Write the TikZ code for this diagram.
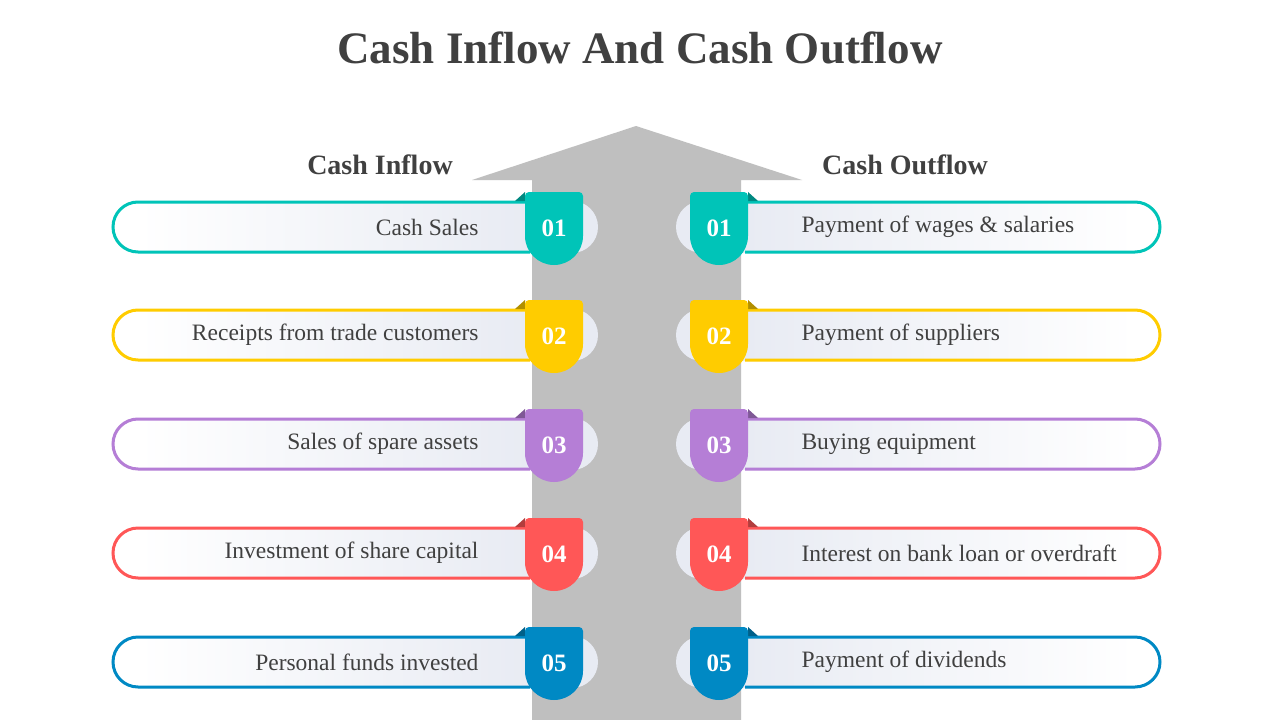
\documentclass[tikz,border=0pt]{standalone}
\usepackage{fontspec}
\setmainfont{Liberation Serif}
\begin{document}
\begin{tikzpicture}[x=1pt,y=-1pt,
  txt/.style={text=black!75, font=\fontsize{23.5}{26}\selectfont},
  num/.style={text=white, font=\bfseries\fontsize{25}{28}\selectfont}]
\useasboundingbox[fill=white] (0,0) rectangle (1280,720);
\definecolor{c1}{HTML}{00C4B8}\definecolor{c2}{HTML}{FFCC00}\definecolor{c3}{HTML}{B57ED6}
\definecolor{c4}{HTML}{FF5757}\definecolor{c5}{HTML}{0089C4}
\definecolor{pl}{HTML}{E8EBF3}\definecolor{ar}{HTML}{BFBFBF}
\node[font=\bfseries\fontsize{45}{50}\selectfont, text=black!75] (title) at (640,48) {Cash Inflow And Cash Outflow};
\fill[ar] (532,720) -- (532,180) -- (472,180) -- (636,126) -- (802,180) -- (741,180) -- (741,720) -- cycle;
\node[font=\bfseries\fontsize{28}{32}\selectfont, text=black!75] (hin) at (380,165) {Cash Inflow};
\node[font=\bfseries\fontsize{28}{32}\selectfont, text=black!75] (hout) at (905,165) {Cash Outflow};
\foreach \y/\c/\n/\L/\R in {227/c1/01/Cash Sales/Payment of wages \& salaries,
  335/c2/02/Receipts from trade customers/Payment of suppliers,
  444/c3/03/Sales of spare assets/Buying equipment,
  553/c4/04/Investment of share capital/Interest on bank loan or overdraft,
  662/c5/05/Personal funds invested/Payment of dividends}{
  % left pill
  \fill[pl] (572,\y-26) arc[start angle=-90,end angle=90,radius=26] -- (138,\y+26) -- (138,\y-26) -- cycle;
  \shade[left color=white, right color=pl] (138,\y-24) rectangle (530,\y+24);
  \fill[white] (138,\y-24) arc[start angle=-90,end angle=-270,radius=24] -- cycle;
  \draw[\c, line width=3pt] (530,\y-25) -- (138,\y-25) arc[start angle=-90,end angle=-270,radius=25] -- (530,\y+25);
  % right pill
  \fill[pl] (702,\y-26) arc[start angle=-90,end angle=-270,radius=26] -- (1135,\y+26) -- (1135,\y-26) -- cycle;
  \shade[left color=pl, right color=white] (745,\y-24) rectangle (1135,\y+24);
  \fill[white] (1135,\y-24) arc[start angle=-90,end angle=90,radius=24] -- cycle;
  \draw[\c, line width=3pt] (745,\y-25) -- (1135,\y-25) arc[start angle=-90,end angle=90,radius=25] -- (745,\y+25);
  % badges
  \fill[\c!70!black] (515,\y-26) -- (525,\y-35) -- (525,\y-26) -- cycle;
  \fill[\c] (525,\y+9) -- (525,\y-31) arc[start angle=180,end angle=270,radius=4] -- (579,\y-35) arc[start angle=270,end angle=360,radius=4] -- (583,\y+9) arc[start angle=0,end angle=180,radius=29] -- cycle;
  \fill[\c!70!black] (758,\y-26) -- (748,\y-35) -- (748,\y-26) -- cycle;
  \fill[\c] (690,\y+9) -- (690,\y-31) arc[start angle=180,end angle=270,radius=4] -- (744,\y-35) arc[start angle=270,end angle=360,radius=4] -- (748,\y+9) arc[start angle=0,end angle=180,radius=29] -- cycle;
  \node[num] (nl\n) at (554,\y+1) {\n};
  \node[num] (nr\n) at (719,\y+1) {\n};
  \node[txt, anchor=east] (l\n) at (482,\y) {\L};
  \node[txt, anchor=west] (r\n) at (798,\y) {\R};
}
\end{tikzpicture}
\end{document}
